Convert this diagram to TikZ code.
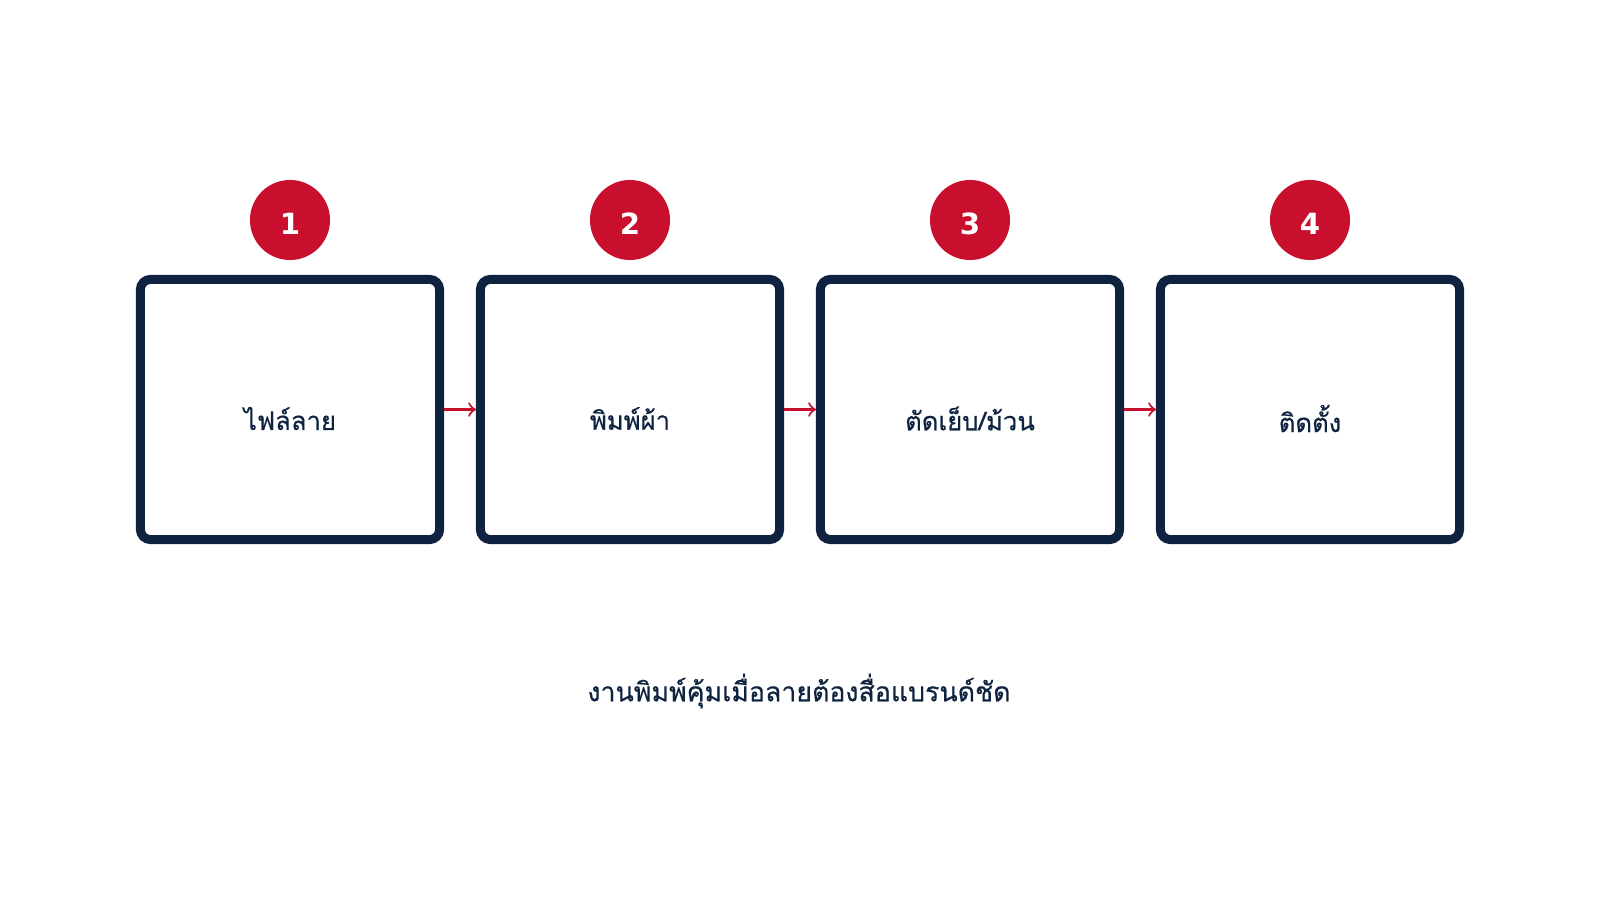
\documentclass[tikz,border=0pt]{standalone}
\usepackage{fontspec}
\usepackage{tikz}
\newfontfamily\thaifont[Script=Thai, FakeBold=0.5]{Loma}
\newfontfamily\numfont{DejaVu Sans}
\definecolor{navy}{HTML}{0F2340}
\definecolor{crimson}{HTML}{C8102E}

\begin{document}
\begin{tikzpicture}[x=0.01cm, y=0.01cm,
  StepBox/.style={draw=navy, line width=2.55pt, fill=white, rounded corners=0.1cm, minimum width=2.99cm, minimum height=2.6cm},
  Label/.style={font=\thaifont\fontsize{7.3}{9}\selectfont, text=navy, inner sep=0pt},
  Badge/.style={circle, fill=crimson, minimum size=0.8cm, inner sep=0pt, text height=8.4pt, text depth=0pt, text=white, font=\numfont\bfseries\fontsize{8.3}{9}\selectfont},
  Flow/.style={->, >=To, draw=crimson, line width=0.6pt}]

\useasboundingbox (0,0) rectangle (1600,900);

\foreach \i/\x/\txt in {1/290/ไฟล์ลาย, 2/630/พิมพ์ผ้า, 3/970/{ตัดเย็บ/ม้วน}, 4/1310/ติดตั้ง} {
  \node [StepBox] (box\i) at (\x, 490.5) {};
  \node [Label] (lbl\i) at ([yshift=-0.09cm]box\i.center) {\txt};
  \node [Badge] (num\i) at (\x, 680) {\i};
}

\foreach \a/\b in {1/2, 2/3, 3/4} {
  \draw [Flow] (box\a) -- (box\b);
}

\node [Label, font=\thaifont\fontsize{7.6}{9}\selectfont] (caption) at (799, 209) {งานพิมพ์คุ้มเมื่อลายต้องสื่อแบรนด์ชัด};
\end{tikzpicture}
\end{document}
